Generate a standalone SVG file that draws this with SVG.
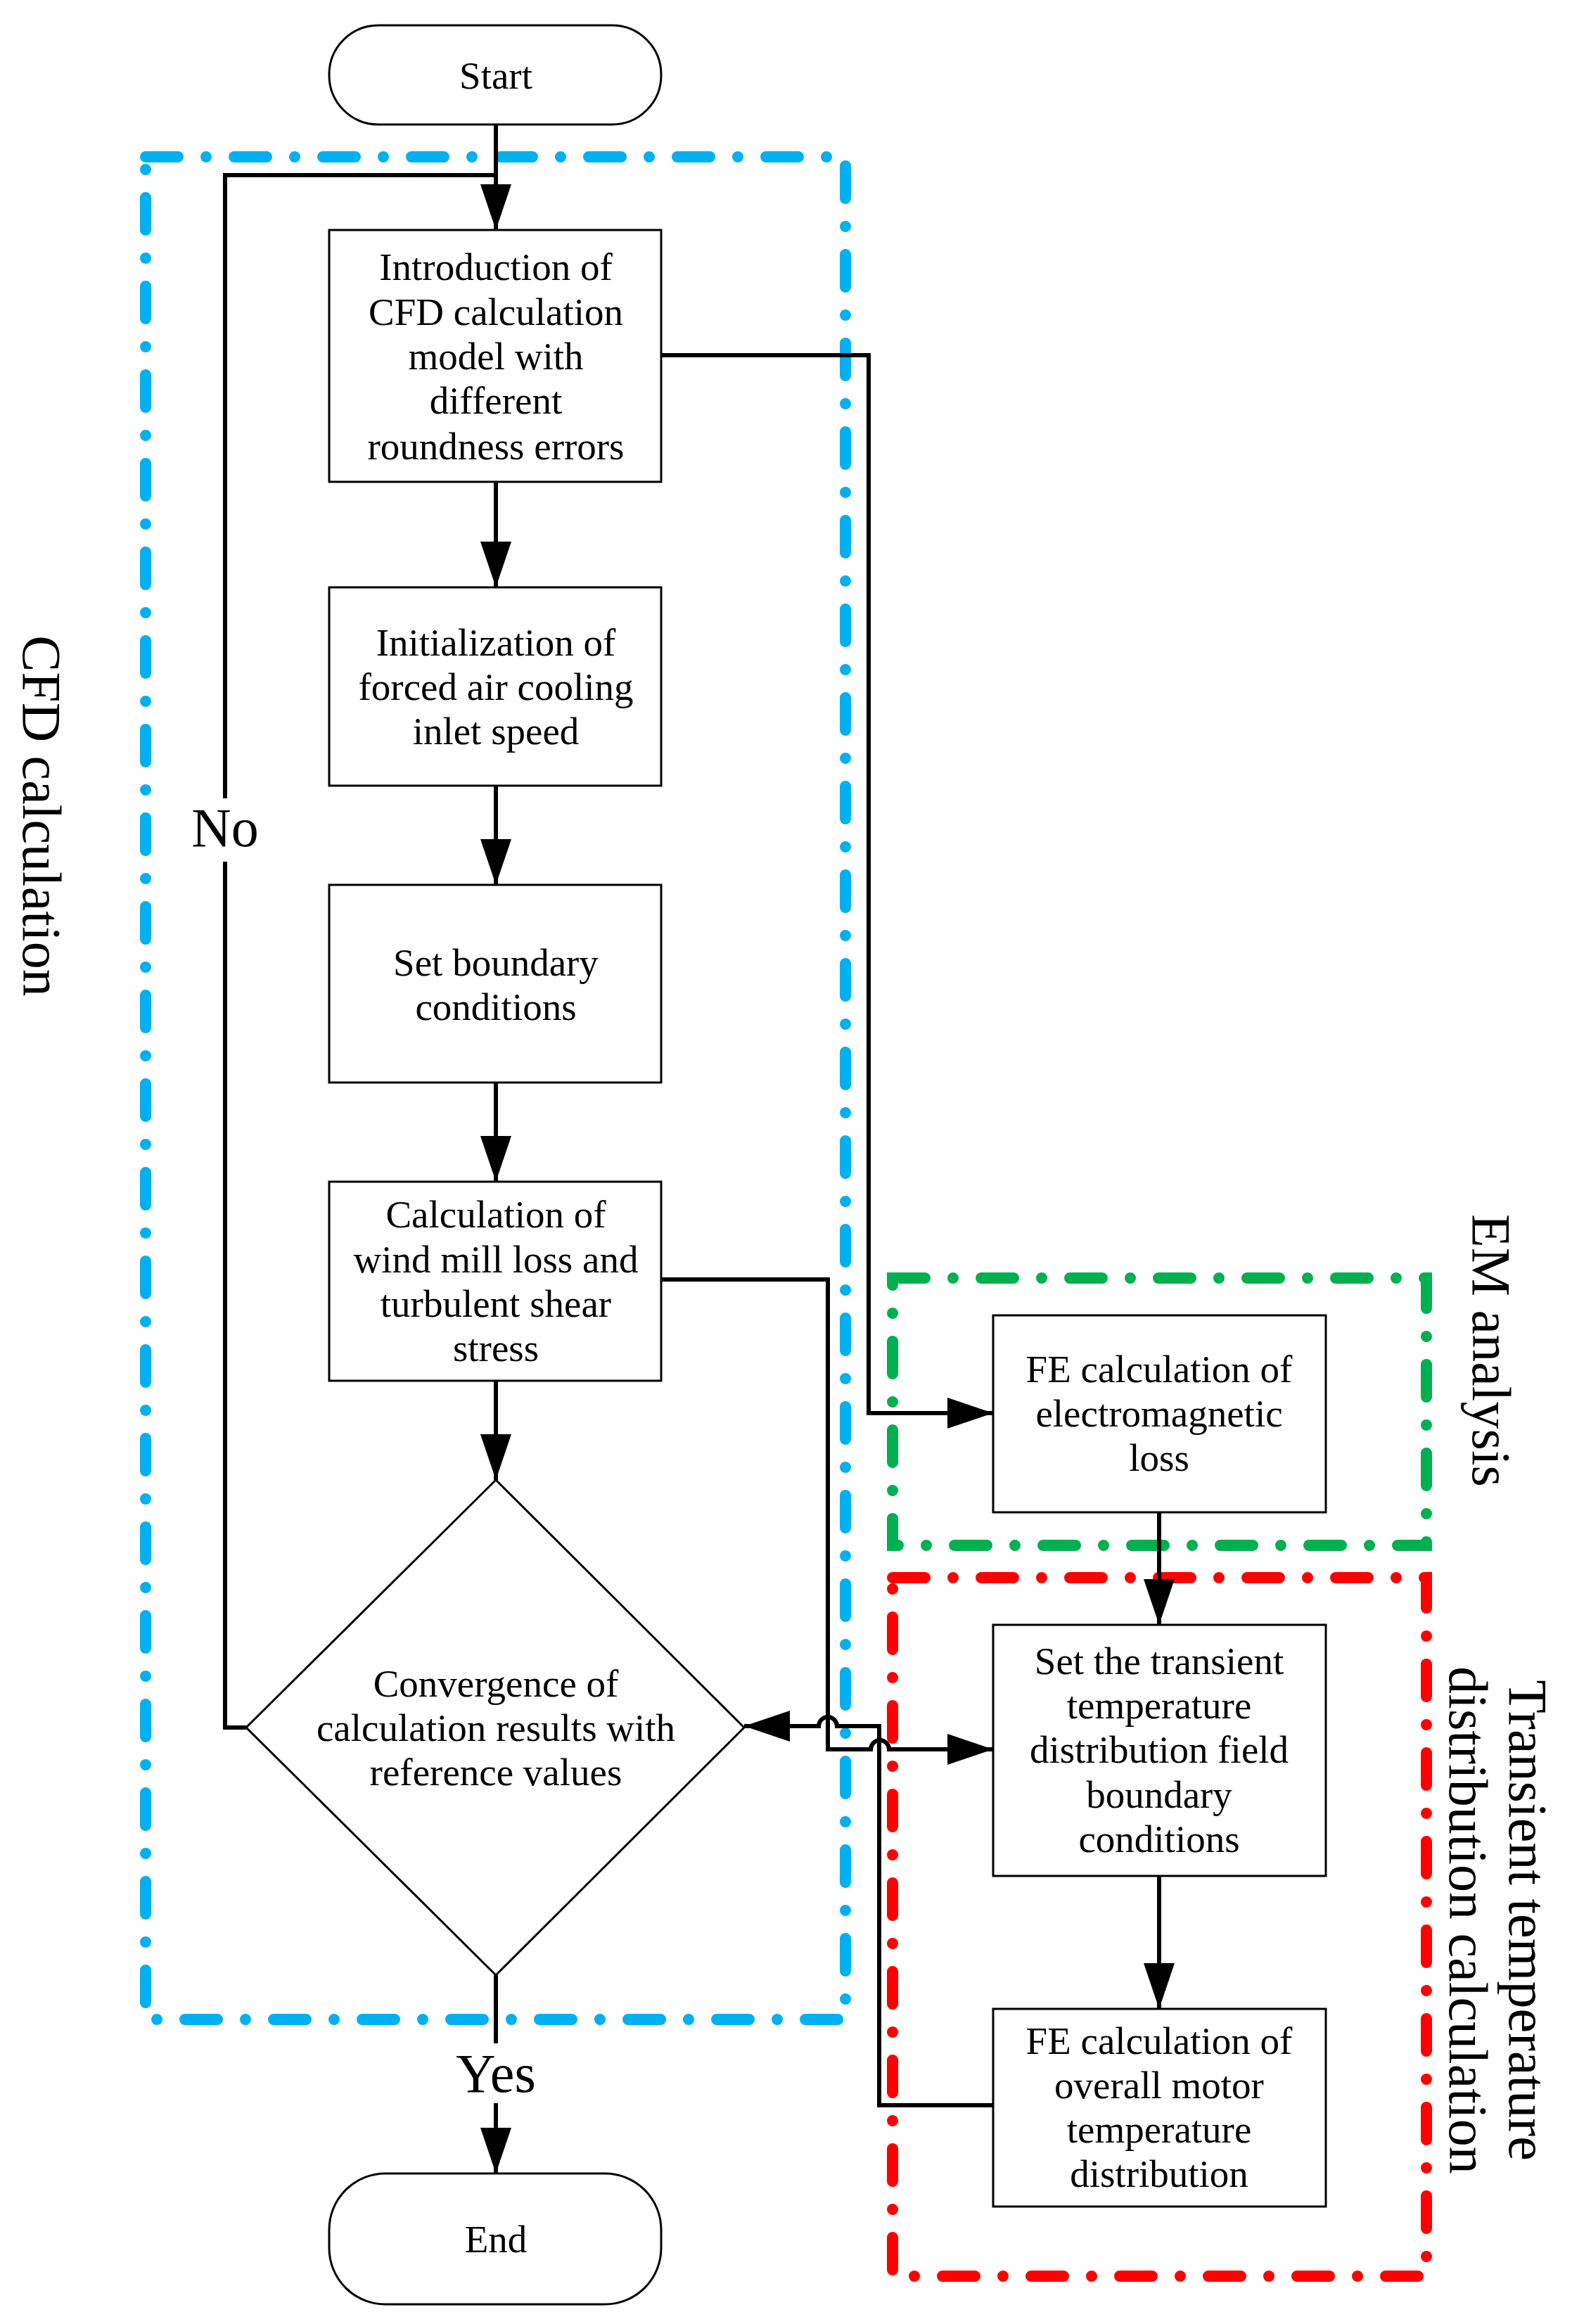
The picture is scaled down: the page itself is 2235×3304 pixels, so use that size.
<svg xmlns="http://www.w3.org/2000/svg" width="2235" height="3304" viewBox="0 0 2235 3304">
<style>
.n{fill:#fff;stroke:#000;stroke-width:3}
.t{font-family:"Liberation Serif",serif;font-size:55px;text-anchor:middle;fill:#000}
.big{font-family:"Liberation Serif",serif;font-size:78px;text-anchor:middle;fill:#000}
.c{fill:none;stroke:#000;stroke-width:6}
.g{fill:none;stroke-width:16;stroke-linecap:round;stroke-dasharray:46 40 0 40}
</style>
<defs>
<marker id="a" markerUnits="userSpaceOnUse" markerWidth="66" markerHeight="44" refX="65" refY="22" orient="auto"><path d="M0,0L65,22L0,44z" fill="#000"/></marker>
</defs>
<g id="groups">
<rect class="g" stroke="#00b0f0" x="207" y="223" width="995" height="2648"/>
<rect class="g" stroke="#00b050" x="1269" y="1817" width="759" height="380"/>
<rect class="g" stroke="#ff0000" x="1269" y="2243" width="759" height="993"/>
<text class="big" transform="translate(59,1160) rotate(90)" dominant-baseline="central">CFD calculation</text>
<text class="big" transform="translate(2120,1920) rotate(90)" dominant-baseline="central">EM analysis</text>
<text class="big" transform="translate(2172,2730) rotate(90)" dominant-baseline="central">Transient temperature</text>
<text class="big" transform="translate(2087,2730) rotate(90)" dominant-baseline="central">distribution calculation</text>
</g>
<g id="connectors">
<path class="c" d="M705,177V327" marker-end="url(#a)"/>
<path class="c" d="M705,685V835" marker-end="url(#a)"/>
<path class="c" d="M705,1117V1258" marker-end="url(#a)"/>
<path class="c" d="M705,1539V1680" marker-end="url(#a)"/>
<path class="c" d="M705,1963V2104" marker-end="url(#a)"/>
<path class="c" d="M705,2808V2905"/>
<path class="c" d="M705,2990V3090" marker-end="url(#a)"/>
<path class="c" d="M350,2456H320V1225M320,1135V249H705"/>
<path class="c" d="M940,505H1235V2009H1412" marker-end="url(#a)"/>
<path class="c" d="M1648,2150V2310" marker-end="url(#a)"/>
<path class="c" d="M1648,2667V2856" marker-end="url(#a)"/>
<path class="c" d="M940,1819H1177V2487H1238A13,13 0 0 1 1264,2487H1412" marker-end="url(#a)"/>
<path class="c" d="M1412,2993H1250V2454H1190A13,13 0 0 0 1164,2454H1058" marker-end="url(#a)"/>
</g>
<g id="start"><rect class="n" x="468" y="36" width="472" height="141" rx="70"/><text class="t" x="705" y="126">Start</text></g>
<g id="end"><rect class="n" x="468" y="3090" width="472" height="186" rx="80"/><text class="t" x="705" y="3202">End</text></g>
<g id="b1"><rect class="n" x="468" y="327" width="472" height="358"/>
<text class="t"><tspan x="705" y="398">Introduction of</tspan><tspan x="705" y="462">CFD calculation</tspan><tspan x="705" y="525">model with</tspan><tspan x="705" y="588">different</tspan><tspan x="705" y="653">roundness errors</tspan></text></g>
<g id="b2"><rect class="n" x="468" y="835" width="472" height="282"/>
<text class="t"><tspan x="705" y="932">Initialization of</tspan><tspan x="705" y="995">forced air cooling</tspan><tspan x="705" y="1058">inlet speed</tspan></text></g>
<g id="b3"><rect class="n" x="468" y="1258" width="472" height="281"/>
<text class="t"><tspan x="705" y="1387">Set boundary</tspan><tspan x="705" y="1450">conditions</tspan></text></g>
<g id="b4"><rect class="n" x="468" y="1680" width="472" height="283"/>
<text class="t"><tspan x="705" y="1745">Calculation of</tspan><tspan x="705" y="1809">wind mill loss and</tspan><tspan x="705" y="1872">turbulent shear</tspan><tspan x="705" y="1935">stress</tspan></text></g>
<g id="d"><path class="n" d="M705,2104L1058,2456L705,2808L350,2456z"/>
<text class="t"><tspan x="705" y="2412">Convergence of</tspan><tspan x="705" y="2475">calculation results with</tspan><tspan x="705" y="2538">reference values</tspan></text></g>
<g id="em"><rect class="n" x="1412" y="1870" width="473" height="280"/>
<text class="t"><tspan x="1648" y="1965">FE calculation of</tspan><tspan x="1648" y="2028">electromagnetic</tspan><tspan x="1648" y="2091">loss</tspan></text></g>
<g id="st"><rect class="n" x="1412" y="2310" width="473" height="357"/>
<text class="t"><tspan x="1648" y="2380">Set the transient</tspan><tspan x="1648" y="2443">temperature</tspan><tspan x="1648" y="2506">distribution field</tspan><tspan x="1648" y="2570">boundary</tspan><tspan x="1648" y="2633">conditions</tspan></text></g>
<g id="fe"><rect class="n" x="1412" y="2856" width="473" height="281"/>
<text class="t"><tspan x="1648" y="2920">FE calculation of</tspan><tspan x="1648" y="2983">overall motor</tspan><tspan x="1648" y="3046">temperature</tspan><tspan x="1648" y="3109">distribution</tspan></text></g>
<text class="big" x="320" y="1203">No</text>
<text class="big" x="705" y="2974">Yes</text>
</svg>
